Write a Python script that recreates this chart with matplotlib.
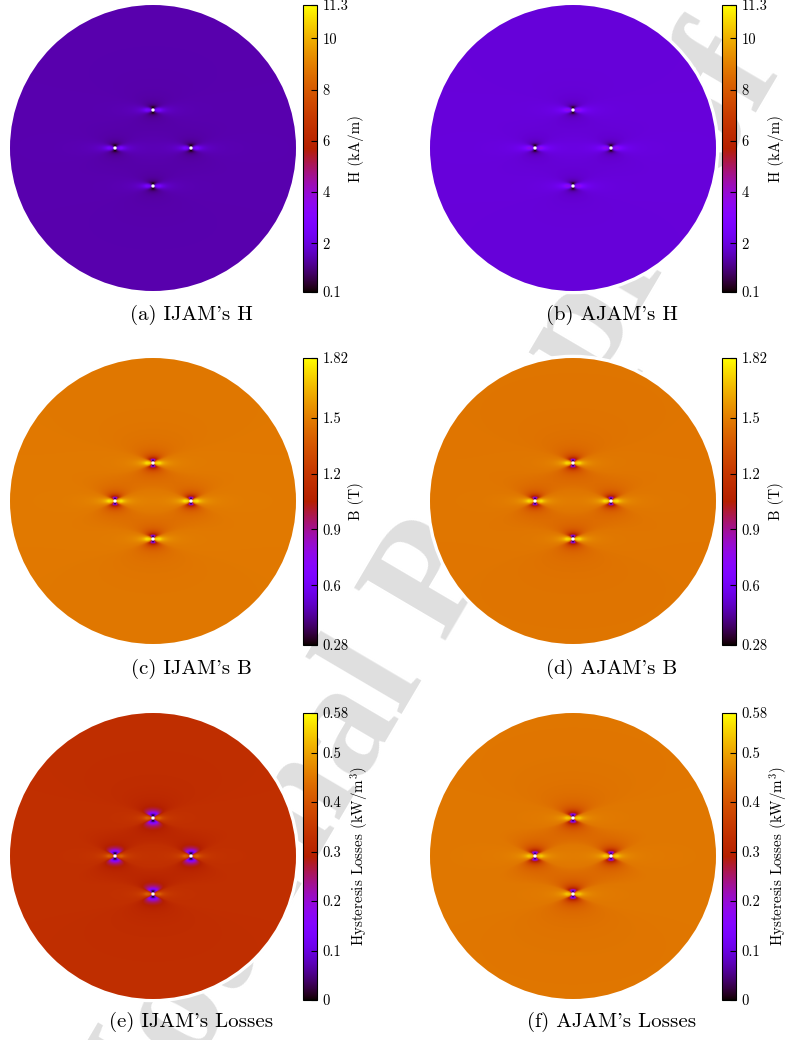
import numpy as np
import matplotlib
matplotlib.use('Agg')
import matplotlib.pyplot as plt
from matplotlib.patches import Circle

plt.rcParams['font.family'] = 'cmr10'
plt.rcParams['mathtext.fontset'] = 'cm'
plt.rcParams['axes.formatter.use_mathtext'] = True

# panel data: background level of each map
captions = ["(a) IJAM's H", "(b) AJAM's H",
            "(c) IJAM's B", "(d) AJAM's B",
            "(e) IJAM's Losses", "(f) AJAM's Losses"]
levels = [1.44, 1.93, 1.48, 1.47, 0.33, 0.45]
cbar_labels = ['H (kA/m)', 'H (kA/m)', 'B (T)', 'B (T)',
               'Hysteresis Losses (kW/m$^3$)', 'Hysteresis Losses (kW/m$^3$)']
vmins = [0.1, 0.1, 0.28, 0.28, 0.0, 0.0]
vmaxs = [11.3, 11.3, 1.82, 1.82, 0.58, 0.58]
tick_H = [0.1, 2, 4, 6, 8, 10, 11.3]
tick_B = [0.28, 0.6, 0.9, 1.2, 1.5, 1.82]
tick_L = [0, 0.1, 0.2, 0.3, 0.4, 0.5, 0.58]
ticks = [tick_H, tick_H, tick_B, tick_B, tick_L, tick_L]

# four holes in the disk (disk radius = 1)
hole_x = [0.0, -0.266, 0.266, 0.0]
hole_y = [0.266, 0.0, 0.0, -0.266]
hole_r = 0.011
flow_r = 0.02
stretch = 2.5
# response of each map below / above the background near a hole
p_low = [1.0, 1.0, 0.8, 0.8, 2.0, 1.4]
p_high = [0.9, 0.9, 0.25, 0.25, 0.35, 0.25]

W, H = 785, 1040
fig = plt.figure(figsize=(W / 100, H / 100), dpi=100)


def box(x, y, w, h):
    return [x / W, 1 - (y + h) / H, w / W, h / H]


# watermark behind everything
fig.text(432 / W, 1 - 585 / H, 'Journal Pre-proof', rotation=59.5,
         fontsize=116, family='Liberation Serif', weight='bold',
         color='#dfdfdf', ha='center', va='center', zorder=-5)

n = 700
xs = np.linspace(-1, 1, n)
X, Y = np.meshgrid(xs, xs)

cmap = matplotlib.colormaps['gnuplot'].resampled(2048)
cmap.set_bad('white')

disk_left = [10, 430]
cbar_left = [303, 722]
row_top = [5, 358, 713]
cap_x = [191, 612]
cap_y = [315, 669, 1022]

for i in range(6):
    row, col = divmod(i, 2)
    ratio = np.ones_like(X)
    inside_hole = np.zeros_like(X, dtype=bool)
    for hx, hy in zip(hole_x, hole_y):
        dx = (X - hx) / stretch
        dy = Y - hy
        r2 = dx ** 2 + dy ** 2 + 1e-12
        q = np.minimum(flow_r ** 2 / r2, 1.0)
        cos2 = (dy ** 2 - dx ** 2) / r2
        ratio *= np.sqrt(np.clip(1 - 2 * q * cos2 + q ** 2, 0, None))
        inside_hole |= (X - hx) ** 2 + (Y - hy) ** 2 < hole_r ** 2
    val = np.where(ratio < 1, ratio ** p_low[i], ratio ** p_high[i]) * levels[i]
    val = np.ma.masked_where(inside_hole, val)

    ax = fig.add_axes(box(disk_left[col], row_top[row], 286, 286))
    ax.patch.set_visible(False)
    halo = Circle((0, 0), 1.018, color='white', zorder=0, clip_on=False)
    ax.add_patch(halo)
    im = ax.imshow(val, cmap=cmap, vmin=vmins[i], vmax=vmaxs[i],
                   extent=[-1, 1, -1, 1], origin='lower',
                   interpolation='bilinear', zorder=1)
    im.set_clip_path(Circle((0, 0), 1.0, transform=ax.transData))
    ax.set_xlim(-1, 1)
    ax.set_ylim(-1, 1)
    ax.set_aspect('equal')
    ax.axis('off')

    cax = fig.add_axes(box(cbar_left[col], row_top[row], 14, 287))
    cb = fig.colorbar(im, cax=cax)
    cb.set_ticks(ticks[i])
    cb.set_ticklabels([str(t) for t in ticks[i]])
    cb.ax.tick_params(direction='in', length=4, width=0.8, labelsize=10.5,
                      right=True, left=False, pad=4)
    cb.outline.set_linewidth(0.8)
    cb.set_label(cbar_labels[i], fontsize=10.8)
    cb.ax.yaxis.set_label_coords(3.25, 0.5)

    fig.text(cap_x[col] / W, 1 - cap_y[row] / H, captions[i],
             fontsize=15, ha='center', va='center')

fig.savefig('out.png', dpi=100)
